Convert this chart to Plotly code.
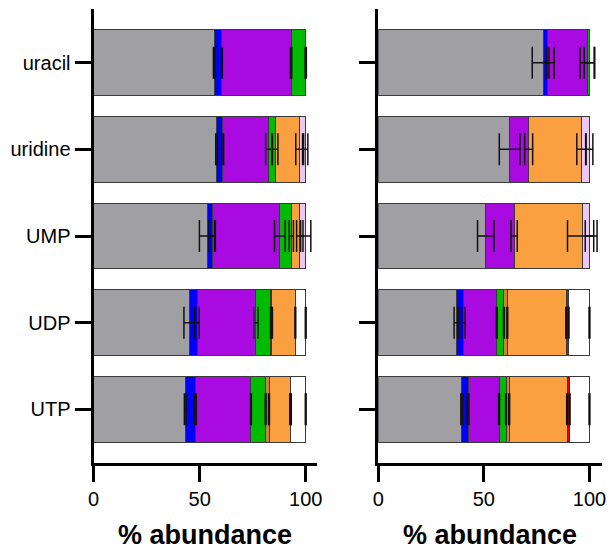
import numpy as np
import plotly.graph_objects as go

categories = ["uracil", "uridine", "UMP", "UDP", "UTP"]
series_names = ["M+0", "M+1", "M+2", "M+3", "M+4", "M+5", "M+6", "M+7", "M+8"]
series_colors = ["#A0A0A4", "#0000FF", "#A80ADF", "#00BB00", "#C8823C",
                 "#FBA040", "#EBC8F3", "#E00000", "#FFFFFF"]

# segment sizes (% abundance), rows = categories, cols = series
left_values = [
    [56.8, 3.7, 32.6, 6.9, 0.0, 0.0, 0.0, 0.0, 0.0],
    [58.0, 2.9, 21.7, 3.0, 0.0, 11.3, 3.1, 0.0, 0.0],
    [53.5, 2.4, 31.9, 5.4, 0.0, 4.0, 2.8, 0.0, 0.0],
    [45.1, 3.7, 27.7, 7.1, 0.5, 11.0, 0.0, 0.0, 4.9],
    [43.2, 4.8, 26.2, 6.9, 1.6, 10.0, 0.0, 0.3, 7.0],
]
left_errors = [
    [0.3, 0.2, 0.3, 0.3, 0, 0, 0, 0, 0],
    [0.4, 0.4, 1.5, 1.3, 0, 1.6, 1.0, 0, 0],
    [3.6, 1.5, 2.5, 1.0, 0, 1.5, 2.4, 0, 0],
    [2.5, 1.0, 1.0, 0.2, 0.2, 0.2, 0, 0, 0.2],
    [0.4, 0.4, 0.2, 0.2, 0.2, 0.2, 0, 0.2, 0.2],
]
right_values = [
    [78.1, 2.2, 18.6, 1.1, 0.0, 0.0, 0.0, 0.0, 0.0],
    [62.2, 0.0, 9.0, 0.0, 0.0, 24.9, 3.9, 0.0, 0.0],
    [50.9, 0.0, 13.4, 0.0, 0.0, 32.3, 3.4, 0.0, 0.0],
    [36.9, 3.4, 15.8, 3.4, 1.6, 27.9, 0.0, 1.1, 9.9],
    [39.5, 3.0, 14.7, 3.3, 1.5, 27.4, 0.0, 1.2, 9.4],
]
right_errors = [
    [5.2, 0.5, 3.3, 2.5, 0, 0, 0, 0, 0],
    [4.9, 0, 1.9, 0, 0, 2.1, 1.6, 0, 0],
    [3.9, 0, 1.5, 0, 0, 7.0, 2.0, 0, 0],
    [1.0, 0.8, 0.2, 0.2, 0.2, 0.2, 0, 0.2, 0.2],
    [0.4, 0.4, 0.2, 0.2, 0.2, 0.2, 0, 0.2, 0.2],
]
x_ticks = [0, 50, 100]
axis_title = "% abundance"

FONT = "Liberation Sans, Arial, sans-serif"
fig = go.Figure()

panels = [("x", "y", left_values, left_errors), ("x2", "y2", right_values, right_errors)]
for xa, ya, vals, errs in panels:
    v = np.array(vals, dtype=float)
    e = np.array(errs, dtype=float)
    cum = np.cumsum(v, axis=1)
    for j, name in enumerate(series_names):
        xs = [val if val > 0 else None for val in v[:, j]]
        fig.add_trace(go.Bar(
            y=categories, x=xs, orientation="h", name=name,
            marker=dict(color=series_colors[j], line=dict(color="#3a3a3a", width=1)),
            xaxis=xa, yaxis=ya, showlegend=False,
        ))
    for j, name in enumerate(series_names):
        px = [cum[i, j] if v[i, j] > 0 else None for i in range(len(categories))]
        ex = [e[i, j] if v[i, j] > 0 else None for i in range(len(categories))]
        fig.add_trace(go.Scatter(
            y=categories, x=px, mode="markers",
            marker=dict(size=1, color="rgba(0,0,0,0)"),
            error_x=dict(type="data", array=ex, visible=True, color="#111111",
                         thickness=1.5, width=16),
            xaxis=xa, yaxis=ya, showlegend=False, hoverinfo="skip",
        ))

# the page body adds an 8px offset; the figure is sized to fit the window
OFF = 8
W, H = 615 - OFF, 549 - OFF
xdom1 = [(89 - OFF) / W, (317 - OFF) / W]
xdom2 = [(379 - OFF) / W, (607 - OFF) / W]
ydom = [(H - (463 - OFF)) / H, (H - (9 - OFF)) / H]

axis_common = dict(showgrid=False, zeroline=False, showline=True, linecolor="black",
                   linewidth=3, ticks="outside", ticklen=16, tickwidth=3,
                   tickcolor="black", tickfont=dict(family=FONT, size=20, color="black"))

fig.update_layout(
    width=W, height=H, barmode="stack", bargap=0.24,
    margin=dict(l=0, r=0, t=0, b=0),
    plot_bgcolor="white", paper_bgcolor="white",
    xaxis=dict(domain=xdom1, range=[0, 105.5], tickvals=x_ticks, anchor="y", **axis_common),
    xaxis2=dict(domain=xdom2, range=[0, 106], tickvals=x_ticks, anchor="y2", **axis_common),
    yaxis=dict(domain=ydom, type="category", categoryorder="array", categoryarray=categories,
               range=[4.62, -0.62], anchor="x", **axis_common),
    yaxis2=dict(domain=ydom, type="category", categoryorder="array", categoryarray=categories,
                range=[4.62, -0.62], anchor="x2", showticklabels=False, **axis_common),
)

for dom in (xdom1, xdom2):
    fig.add_annotation(text="<b>" + axis_title + "</b>", xref="paper", yref="paper",
                       x=(dom[0] + dom[1]) / 2, y=(H - (535 - OFF)) / H, xanchor="center",
                       yanchor="middle", showarrow=False, borderpad=0,
                       font=dict(family=FONT, size=27, color="black"))

fig.write_html("out.html")
